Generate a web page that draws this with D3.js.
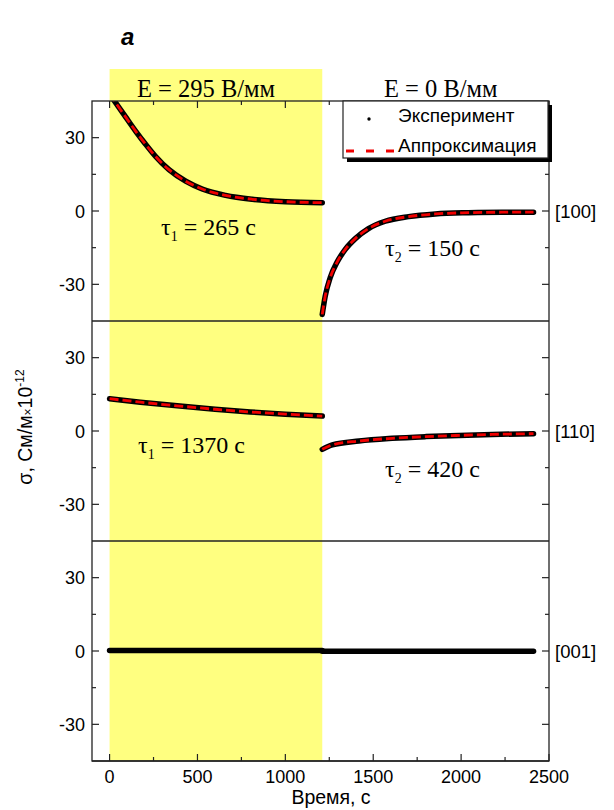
<!DOCTYPE html>
<html>
<head>
<meta charset="utf-8">
<script src="https://cdn.jsdelivr.net/npm/d3@7"></script>
<style>body{margin:0;background:#fff}</style>
</head>
<body>
<svg id="svg" width="614" height="810"></svg>
<script>
// values (time in s, sigma in 10^-12 См/м)
var xTicks = [0, 500, 1000, 1500, 2000, 2500];
var yTicks = [-30, 0, 30];
var crystals = ["[100]", "[110]", "[001]"];
var fieldOn = [0, 1210];

var t100on = [0, 25, 91, 148, 205, 262, 338, 433, 527, 660, 812, 1001, 1210];
var s100on = [48.0, 45.3, 38.5, 32.7, 27.3, 22.3, 16.9, 12.2, 9.0, 6.4, 4.8, 3.8, 3.4];
var t100off = [1210, 1227, 1255, 1293, 1341, 1398, 1473, 1568, 1701, 1853, 2042, 2232, 2412];
var s100off = [-42.3, -34.8, -27.3, -21.1, -15.7, -11.3, -7.2, -4.2, -2.3, -1.2, -0.7, -0.5, -0.5];

var t110on = [0, 175, 400, 600, 800, 1000, 1210];
var s110on = [13.2, 11.8, 10.2, 8.9, 7.8, 6.9, 6.1];
var t110off = [1210, 1267, 1419, 1608, 1798, 1988, 2177, 2412];
var s110off = [-7.5, -5.7, -4.1, -3.0, -2.3, -1.8, -1.4, -1.1];

var t001on = [0, 1210];
var s001on = [0.2, 0.2];
var t001off = [1210, 2412];
var s001off = [-0.1, -0.1];

var panels = [
  {label: crystals[0], segs: [[t100on, s100on], [t100off, s100off]], fit: true},
  {label: crystals[1], segs: [[t110on, s110on], [t110off, s110off]], fit: true},
  {label: crystals[2], segs: [[t001on, s001on], [t001off, s001off]], fit: false}
];

var padL = 92, padR = 549, padT = 101, ph = 220;
var padB = padT + ph * 3;
var sans = "'Liberation Sans', Arial, sans-serif";
var serif = "'Liberation Serif', 'Times New Roman', serif";

var svg = d3.select("#svg");

var x = d3.scaleLinear().domain([-100, 2500]).range([padL, padR]);

// yellow field-on band
svg.append("rect")
    .attr("x", x(fieldOn[0]))
    .attr("y", 69)
    .attr("width", x(fieldOn[1]) - x(fieldOn[0]))
    .attr("height", padB - 69)
    .attr("fill", "#ffff80");

svg.append("text")
    .attr("x", 137).attr("y", 97)
    .attr("font-family", serif).attr("font-size", 24.5)
    .text("E = 295 В/мм");
svg.append("text")
    .attr("x", 384).attr("y", 97)
    .attr("font-family", serif).attr("font-size", 24.5)
    .text("E = 0 В/мм");

svg.append("text")
    .attr("x", 121).attr("y", 45)
    .attr("font-family", sans).attr("font-size", 24)
    .attr("font-weight", "bold").attr("font-style", "italic")
    .text("a");

var line = d3.line()
    .x(d => x(d[0]))
    .curve(d3.curveMonotoneX);

panels.forEach(function(p, i) {
  var y0 = padT + i * ph;
  var y = d3.scaleLinear().domain([-45, 45]).range([y0 + ph, y0]);
  var g = svg.append("g");

  g.append("clipPath").attr("id", "clip" + i)
    .append("rect")
      .attr("x", padL).attr("y", y0)
      .attr("width", padR - padL).attr("height", ph);

  var lineY = line.y(d => y(d[1]));
  var plot = g.append("g").attr("clip-path", "url(#clip" + i + ")");

  p.segs.forEach(function(s) {
    var pts = d3.zip(s[0], s[1]);
    plot.append("path")
        .attr("d", lineY(pts))
        .attr("fill", "none")
        .attr("stroke", "#000")
        .attr("stroke-width", 5.5)
        .attr("stroke-linecap", "round");
  });
  if (p.fit) {
    p.segs.forEach(function(s) {
      var pts = d3.zip(s[0], s[1]);
      plot.append("path")
          .attr("d", lineY(pts))
          .attr("fill", "none")
          .attr("stroke", "#f00000")
          .attr("stroke-width", 2.8)
          .attr("stroke-dasharray", "9,4");
    });
  }

  // y ticks left and right, inside
  d3.range(-30, 31, 15).forEach(function(v) {
    var len = v % 30 === 0 ? 7 : 4;
    g.append("line")
        .attr("x1", padL).attr("x2", padL + len)
        .attr("y1", y(v)).attr("y2", y(v))
        .attr("stroke", "#222").attr("stroke-width", 1.2);
    g.append("line")
        .attr("x1", padR).attr("x2", padR - len)
        .attr("y1", y(v)).attr("y2", y(v))
        .attr("stroke", "#222").attr("stroke-width", 1.2);
  });
  yTicks.forEach(function(v) {
    g.append("text")
        .attr("x", 85).attr("y", y(v) + 6.5)
        .attr("text-anchor", "end")
        .attr("font-family", sans).attr("font-size", 18)
        .text(v);
  });

  g.append("text")
      .attr("x", 555).attr("y", y(0) + 7)
      .attr("font-family", sans).attr("font-size", 18.5)
      .text(p.label);

  g.append("line")
      .attr("x1", padL).attr("x2", padR)
      .attr("y1", y0 + ph).attr("y2", y0 + ph)
      .attr("stroke", "#222").attr("stroke-width", 1.3);
});

// frame
svg.append("rect")
    .attr("x", padL).attr("y", padT)
    .attr("width", padR - padL).attr("height", padB - padT)
    .attr("fill", "none").attr("stroke", "#222").attr("stroke-width", 1.3);

// x ticks top and bottom
d3.range(0, 2501, 250).forEach(function(v) {
  var len = v % 500 === 0 ? 7 : 4;
  svg.append("line")
      .attr("x1", x(v)).attr("x2", x(v))
      .attr("y1", padB).attr("y2", padB - len)
      .attr("stroke", "#222").attr("stroke-width", 1.2);
  svg.append("line")
      .attr("x1", x(v)).attr("x2", x(v))
      .attr("y1", padT).attr("y2", padT + len)
      .attr("stroke", "#222").attr("stroke-width", 1.2);
});
xTicks.forEach(function(v) {
  svg.append("text")
      .attr("x", x(v)).attr("y", 783)
      .attr("text-anchor", "middle")
      .attr("font-family", sans).attr("font-size", 18)
      .text(v);
});

svg.append("text")
    .attr("x", 331).attr("y", 804)
    .attr("text-anchor", "middle")
    .attr("font-family", sans).attr("font-size", 19.5)
    .text("Время, с");

var yt = svg.append("text")
    .attr("transform", "translate(32,427) rotate(-90)")
    .attr("text-anchor", "middle")
    .attr("font-family", sans).attr("font-size", 19.5);
yt.append("tspan").text("σ, См/м");
yt.append("tspan").attr("font-size", 12).text("×");
yt.append("tspan").text("10");
yt.append("tspan").attr("font-size", 12).attr("dy", -8).text("-12");

// tau annotations
function tau(xp, yp, sub, rest) {
  var t = svg.append("text")
      .attr("x", xp).attr("y", yp)
      .attr("font-family", serif).attr("font-size", 24);
  t.append("tspan").text("τ");
  t.append("tspan").attr("font-size", 14).attr("dy", 6).text(sub);
  t.append("tspan").attr("dy", -6).text(" = " + rest);
}
tau(161, 235, "1", "265 c");
tau(385, 256, "2", "150 c");
tau(138, 453, "1", "1370 c");
tau(385, 477, "2", "420 c");

// legend
var lg = svg.append("g");
lg.append("rect")
    .attr("x", 347).attr("y", 105).attr("width", 205).attr("height", 57)
    .attr("fill", "#000");
lg.append("rect")
    .attr("x", 343).attr("y", 101).attr("width", 205).attr("height", 57)
    .attr("fill", "#fff").attr("stroke", "#222").attr("stroke-width", 1.2);
lg.append("circle")
    .attr("cx", 369).attr("cy", 119).attr("r", 1.7).attr("fill", "#000");
lg.append("text")
    .attr("x", 398).attr("y", 122)
    .attr("font-family", sans).attr("font-size", 19)
    .text("Эксперимент");
lg.append("line")
    .attr("x1", 346).attr("x2", 394).attr("y1", 151).attr("y2", 151)
    .attr("stroke", "#f00000").attr("stroke-width", 2.8)
    .attr("stroke-dasharray", "8,12");
lg.append("text")
    .attr("x", 398).attr("y", 152)
    .attr("font-family", sans).attr("font-size", 19)
    .text("Аппроксимация");
</script>
</body>
</html>
